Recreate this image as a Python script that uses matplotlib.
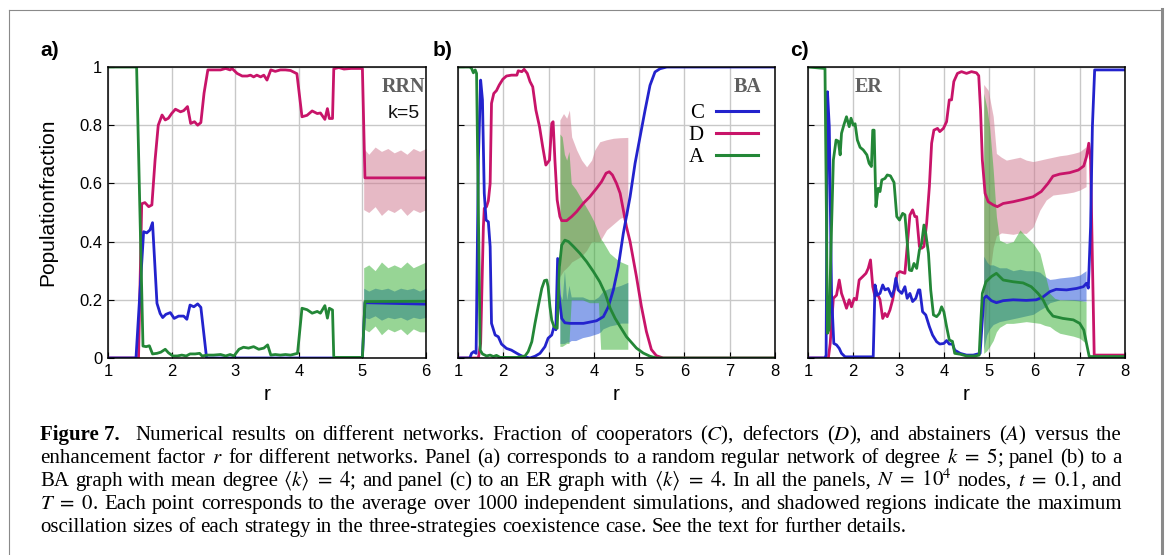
import matplotlib
matplotlib.use("Agg")
import matplotlib.pyplot as plt
from matplotlib.lines import Line2D

plt.rcParams["font.family"] = ["Liberation Sans", "DejaVu Sans"]
plt.rcParams["mathtext.fontset"] = "stix"

W, H = 1167, 555

BLUE = "#2323cd"
RED = "#c81469"
GREEN = "#238737"
BLUE_FILL = "#194bd7"
RED_FILL = "#cf758d"
GREEN_FILL = "#31ad2d"

# ---------------- panel a (RRN, k=5) ----------------
a_r_C = [1.0, 1.44, 1.56, 1.61, 1.66, 1.70, 1.77, 1.82, 1.86, 1.91, 1.98, 2.04, 2.11, 2.19, 2.24,
         2.29, 2.35, 2.41, 2.46, 2.55, 5.0, 5.04, 6.0]
a_C = [0, 0, 0.434, 0.43, 0.44, 0.465, 0.188, 0.153, 0.139, 0.15, 0.156, 0.136, 0.144, 0.144, 0.133,
       0.182, 0.176, 0.186, 0.174, 0.0, 0.0, 0.19, 0.185]

a_r_D = [1.0, 1.48, 1.53, 1.58, 1.64, 1.69, 1.74, 1.79, 1.85, 1.90, 1.95, 2.0, 2.06, 2.14, 2.19,
         2.25, 2.30, 2.36, 2.41, 2.46, 2.51, 2.57, 2.77, 2.85, 2.92, 2.95, 3.03, 3.11, 3.19, 3.24,
         3.29, 3.34, 3.40, 3.45, 3.50, 3.56, 3.63, 3.71, 3.79, 3.87, 3.97, 4.05, 4.13, 4.21, 4.29,
         4.34, 4.41, 4.45, 4.48, 4.53, 4.55, 4.63, 4.71, 4.82, 5.0, 5.04, 6.0]
a_D = [0, 0, 0.53, 0.534, 0.52, 0.526, 0.68, 0.80, 0.835, 0.818, 0.824, 0.84, 0.855, 0.846, 0.85,
       0.864, 0.806, 0.812, 0.80, 0.809, 0.91, 0.99, 0.99, 0.995, 0.99, 0.995, 0.978, 0.969, 0.969,
       0.972, 0.966, 0.972, 0.966, 0.972, 0.955, 0.99, 0.985, 0.99, 0.99, 0.988, 0.977, 0.829, 0.834,
       0.849, 0.84, 0.842, 0.82, 0.857, 0.823, 0.823, 0.994, 0.998, 0.993, 0.995, 0.995, 0.619, 0.619]

a_r_A = [1.0, 1.45, 1.55, 1.60, 1.65, 1.70, 1.77, 1.83, 1.90, 1.95, 2.02, 2.09, 2.16, 2.23, 2.29,
         2.37, 2.44, 2.48, 2.56, 2.66, 2.77, 2.85, 2.92, 2.98, 3.06, 3.13, 3.21, 3.29, 3.37, 3.45,
         3.51, 3.56, 3.63, 3.71, 3.79, 3.87, 3.98, 4.05, 4.13, 4.21, 4.29, 4.34, 4.41, 4.45, 4.48,
         4.53, 4.55, 5.0, 5.04, 6.0]
a_A = [1, 1, 0.041, 0.039, 0.042, 0.014, 0.016, 0.02, 0.03, 0.018, 0.007, 0.007, 0.01, 0.007, 0.014,
       0.014, 0.016, 0.007, 0.01, 0.01, 0.012, 0.007, 0.012, 0.007, 0.03, 0.037, 0.034, 0.039, 0.03,
       0.034, 0.045, 0.01, 0.012, 0.01, 0.012, 0.01, 0.016, 0.171, 0.166, 0.154, 0.16, 0.154, 0.18,
       0.137, 0.171, 0.165, 0.002, 0.002, 0.194, 0.195]

a_r_band = [5.02, 5.1, 5.2, 5.3, 5.4, 5.5, 5.6, 5.7, 5.8, 5.9, 6.0]
a_D_hi = [0.72, 0.70, 0.725, 0.71, 0.72, 0.705, 0.715, 0.70, 0.72, 0.71, 0.72]
a_D_lo = [0.51, 0.50, 0.52, 0.49, 0.51, 0.50, 0.515, 0.49, 0.51, 0.50, 0.51]
a_A_hi = [0.31, 0.32, 0.30, 0.33, 0.31, 0.32, 0.31, 0.33, 0.31, 0.32, 0.33]
a_A_lo = [0.10, 0.09, 0.11, 0.08, 0.10, 0.09, 0.10, 0.08, 0.10, 0.09, 0.09]
a_C_hi = [0.24, 0.23, 0.24, 0.235, 0.24, 0.23, 0.24, 0.235, 0.24, 0.23, 0.24]
a_C_lo = [0.14, 0.135, 0.145, 0.13, 0.14, 0.135, 0.14, 0.13, 0.14, 0.135, 0.14]

# ---------------- panel b (BA) ----------------
b_r_C = [1.0, 1.26, 1.30, 1.35, 1.40, 1.45, 1.50, 1.54, 1.58, 1.62, 1.67, 1.71, 1.74, 1.82, 1.89,
         1.96, 2.07, 2.18, 2.30, 2.37, 2.44, 2.59, 2.70, 2.81, 2.92, 2.99, 3.07, 3.12, 3.16, 3.20,
         3.24, 3.29, 3.36, 3.47, 3.77, 4.06, 4.21, 4.32, 4.43, 4.54, 4.65, 4.80, 4.91, 5.02, 5.13,
         5.24, 5.35, 5.46, 5.61, 8.0]
b_C = [0, 0, 0.016, 0.022, 0.016, 0.68, 0.955, 0.887, 0.566, 0.474, 0.468, 0.383, 0.119, 0.079, 0.073,
       0.048, 0.033, 0.027, 0.016, 0.01, 0.005, 0.0, 0.006, 0.016, 0.039, 0.068, 0.079, 0.108, 0.097,
       0.342, 0.2, 0.136, 0.121, 0.119, 0.119, 0.128, 0.142, 0.176, 0.234, 0.314, 0.428, 0.554,
       0.669, 0.76, 0.851, 0.937, 0.983, 0.994, 1.0, 1.0]

b_r_D = [1.0, 1.45, 1.50, 1.56, 1.58, 1.63, 1.67, 1.71, 1.74, 1.79, 1.85, 1.91, 1.99, 2.07, 2.18,
         2.30, 2.33, 2.41, 2.46, 2.53, 2.59, 2.65, 2.72, 2.80, 2.87, 2.94, 3.02, 3.07, 3.10, 3.14,
         3.19, 3.25, 3.29, 3.40, 3.51, 3.62, 3.77, 3.91, 4.06, 4.17, 4.27, 4.34, 4.41, 4.50, 4.58,
         4.65, 4.72, 4.80, 4.94, 5.05, 5.16, 5.27, 5.38, 5.53, 8.0]
b_D = [0, 0, 0.05, 0.45, 0.514, 0.52, 0.54, 0.60, 0.875, 0.909, 0.919, 0.938, 0.958, 0.969, 0.972,
       0.972, 0.987, 0.984, 0.992, 0.978, 0.95, 0.932, 0.852, 0.795, 0.726, 0.663, 0.68, 0.806, 0.812,
       0.68, 0.543, 0.486, 0.472, 0.472, 0.486, 0.503, 0.532, 0.554, 0.583, 0.606, 0.635, 0.64, 0.629,
       0.60, 0.566, 0.509, 0.451, 0.40, 0.28, 0.177, 0.091, 0.029, 0.008, 0.0, 0.0]

b_r_A = [1.0, 1.26, 1.30, 1.34, 1.38, 1.41, 1.45, 1.49, 1.54, 1.63, 1.71, 1.78, 1.85, 1.93, 2.30,
         2.48, 2.55, 2.63, 2.70, 2.77, 2.85, 2.91, 2.96, 2.99, 3.03, 3.07, 3.12, 3.19, 3.24, 3.29,
         3.36, 3.44, 3.55, 3.69, 3.84, 3.99, 4.13, 4.25, 4.36, 4.47, 4.58, 4.72, 4.94, 5.09, 5.24,
         5.38, 8.0]
b_A = [1, 1, 0.995, 0.98, 0.99, 0.978, 0.5, 0.027, 0.014, 0.007, 0.01, 0.005, 0.009, 0.002, 0.002,
       0.007, 0.022, 0.056, 0.119, 0.176, 0.239, 0.266, 0.268, 0.245, 0.176, 0.13, 0.108, 0.102,
       0.314, 0.388, 0.405, 0.40, 0.383, 0.36, 0.331, 0.297, 0.262, 0.222, 0.171, 0.136, 0.108,
       0.073, 0.034, 0.017, 0.006, 0.0, 0.0]

b_r_band_D = [3.25, 3.33, 3.40, 3.46, 3.51, 3.62, 3.73, 3.84, 3.95, 4.02, 4.13, 4.28, 4.43, 4.58, 4.75]
b_D_hi = [0.818, 0.84, 0.824, 0.852, 0.76, 0.715, 0.68, 0.657, 0.68, 0.715, 0.743, 0.75, 0.755, 0.757, 0.758]
b_D_lo = [0.28, 0.30, 0.31, 0.32, 0.33, 0.34, 0.35, 0.37, 0.40, 0.40, 0.40, 0.44, 0.46, 0.48, 0.49]

b_r_band = [3.25, 3.30, 3.35, 3.40, 3.45, 3.50, 3.60, 3.75, 3.90, 4.00, 4.10, 4.15, 4.20, 4.35,
            4.50, 4.60, 4.75]
b_A_hi = [0.77, 0.76, 0.70, 0.68, 0.71, 0.60, 0.58, 0.54, 0.50, 0.47, 0.43, 0.41, 0.40, 0.36, 0.34, 0.33, 0.32]
b_A_lo = [0.04, 0.04, 0.045, 0.05, 0.05, 0.2, 0.2, 0.2, 0.19, 0.19, 0.19, 0.03, 0.03, 0.03, 0.03, 0.03, 0.03]
b_C_hi = [0.22, 0.20, 0.30, 0.20, 0.25, 0.21, 0.21, 0.21, 0.20, 0.20, 0.21, 0.22, 0.23, 0.24, 0.245, 0.25, 0.26]
b_C_lo = [0.05, 0.05, 0.05, 0.055, 0.055, 0.06, 0.06, 0.07, 0.075, 0.08, 0.085, 0.09, 0.10, 0.11, 0.115, 0.12, 0.12]

# ---------------- panel c (ER) ----------------
c_r_C = [1.0, 1.375, 1.40, 1.43, 1.47, 1.52, 1.57, 1.63, 1.69, 1.74, 1.82, 2.44, 2.48, 2.53, 2.59,
         2.65, 2.70, 2.77, 2.85, 2.90, 2.94, 2.99, 3.07, 3.14, 3.19, 3.25, 3.31, 3.38, 3.44, 3.47,
         3.53, 3.60, 3.68, 3.75, 3.84, 3.91, 4.0, 4.06, 4.12, 4.19, 4.24, 4.36, 4.50, 4.65, 4.80,
         4.85, 4.88, 4.94, 5.05, 5.16, 5.31, 5.53, 5.82, 6.04, 6.19, 6.34, 6.48, 6.71, 6.93, 7.08,
         7.15, 7.19, 7.24, 7.28, 7.33, 8.0]
c_C = [0, 0, 0.01, 0.915, 0.795, 0.22, 0.05, 0.045, 0.033, 0.016, 0.004, 0.004, 0.251, 0.216, 0.222,
       0.251, 0.234, 0.239, 0.211, 0.234, 0.274, 0.234, 0.222, 0.245, 0.205, 0.222, 0.194, 0.205,
       0.234, 0.234, 0.159, 0.148, 0.108, 0.079, 0.056, 0.048, 0.05, 0.06, 0.048, 0.048, 0.027,
       0.016, 0.01, 0.01, 0.016, 0.13, 0.205, 0.213, 0.197, 0.19, 0.197, 0.2, 0.198, 0.2, 0.21,
       0.228, 0.236, 0.234, 0.239, 0.245, 0.257, 0.24, 0.451, 0.795, 0.99, 0.99]

c_r_D = [1.0, 1.45, 1.49, 1.56, 1.63, 1.69, 1.74, 1.79, 1.85, 1.91, 1.96, 2.02, 2.07, 2.13, 2.21,
         2.28, 2.33, 2.38, 2.43, 2.48, 2.53, 2.59, 2.65, 2.70, 2.75, 2.81, 2.87, 2.92, 2.97, 3.03,
         3.14, 3.19, 3.25, 3.31, 3.36, 3.40, 3.46, 3.51, 3.56, 3.62, 3.68, 3.73, 3.78, 3.86, 3.91,
         3.99, 4.06, 4.12, 4.17, 4.22, 4.30, 4.39, 4.50, 4.61, 4.72, 4.77, 4.81, 4.85, 4.91, 4.98,
         5.09, 5.18, 5.31, 5.53, 5.75, 5.97, 6.15, 6.30, 6.41, 6.56, 6.78, 6.97, 7.09, 7.15, 7.20,
         7.24, 7.28, 7.32, 8.0]
c_D = [0, 0, 0.05, 0.205, 0.216, 0.268, 0.222, 0.2, 0.171, 0.2, 0.176, 0.205, 0.2, 0.268, 0.28,
       0.291, 0.308, 0.337, 0.245, 0.211, 0.222, 0.2, 0.136, 0.153, 0.142, 0.165, 0.2, 0.245, 0.291,
       0.297, 0.291, 0.383, 0.491, 0.509, 0.486, 0.486, 0.383, 0.377, 0.383, 0.463, 0.589, 0.738,
       0.783, 0.789, 0.778, 0.789, 0.812, 0.887, 0.887, 0.95, 0.978, 0.984, 0.978, 0.984, 0.98, 0.97,
       0.852, 0.68, 0.566, 0.537, 0.526, 0.52, 0.531, 0.537, 0.545, 0.554, 0.572, 0.6, 0.625, 0.632,
       0.637, 0.646, 0.66, 0.692, 0.738, 0.68, 0.337, 0.01, 0.01]

c_r_A = [1.0, 1.375, 1.40, 1.43, 1.47, 1.50, 1.56, 1.62, 1.67, 1.71, 1.74, 1.79, 1.85, 1.91, 1.95,
         2.0, 2.04, 2.09, 2.15, 2.22, 2.30, 2.35, 2.40, 2.43, 2.46, 2.50, 2.55, 2.59, 2.63, 2.70,
         2.75, 2.82, 2.90, 2.96, 3.02, 3.09, 3.14, 3.19, 3.24, 3.29, 3.34, 3.40, 3.46, 3.51, 3.56,
         3.60, 3.66, 3.71, 3.77, 3.84, 3.90, 3.95, 4.0, 4.06, 4.12, 4.19, 4.24, 4.36, 4.50, 4.69,
         4.78, 4.81, 4.85, 4.93, 5.05, 5.16, 5.31, 5.53, 5.75, 5.93, 6.08, 6.19, 6.30, 6.41, 6.63,
         6.86, 7.0, 7.09, 7.15, 7.21, 8.0]
c_A = [1, 0.995, 0.6, 0.085, 0.1, 0.337, 0.68, 0.749, 0.745, 0.698, 0.772, 0.8, 0.829, 0.795, 0.824,
       0.8, 0.805, 0.749, 0.724, 0.715, 0.698, 0.669, 0.658, 0.783, 0.783, 0.52, 0.583, 0.572, 0.612,
       0.617, 0.629, 0.626, 0.603, 0.486, 0.474, 0.497, 0.492, 0.4, 0.302, 0.3, 0.325, 0.308, 0.371,
       0.394, 0.457, 0.428, 0.36, 0.234, 0.148, 0.142, 0.153, 0.176, 0.159, 0.108, 0.062, 0.057,
       0.016, 0.013, 0.007, 0.007, 0.01, 0.108, 0.222, 0.262, 0.28, 0.291, 0.268, 0.262, 0.258,
       0.245, 0.222, 0.2, 0.165, 0.144, 0.136, 0.131, 0.119, 0.096, 0.05, 0.005, 0.005]

c_r_band_D = [4.88, 4.98, 5.09, 5.16, 5.27, 5.38, 5.53, 5.68, 5.82, 5.97, 6.12, 6.26, 6.41, 6.56,
              6.71, 6.86, 7.0, 7.14]
c_D_hi = [0.94, 0.92, 0.83, 0.703, 0.69, 0.68, 0.685, 0.69, 0.68, 0.675, 0.68, 0.685, 0.69, 0.695,
          0.698, 0.703, 0.709, 0.726]
c_D_lo = [0.05, 0.25, 0.38, 0.42, 0.43, 0.428, 0.425, 0.43, 0.428, 0.45, 0.508, 0.543, 0.56, 0.563,
          0.566, 0.57, 0.577, 0.589]

c_r_band = [4.88, 4.95, 5.01, 5.09, 5.16, 5.23, 5.38, 5.53, 5.68, 5.82, 5.97, 6.12, 6.23, 6.34,
            6.45, 6.56, 6.86, 7.0, 7.14]
c_A_hi = [0.91, 0.86, 0.795, 0.646, 0.486, 0.405, 0.394, 0.40, 0.44, 0.417, 0.394, 0.36, 0.291,
          0.222, 0.205, 0.2, 0.2, 0.198, 0.194]
c_A_lo = [0.016, 0.025, 0.039, 0.06, 0.09, 0.105, 0.119, 0.119, 0.122, 0.125, 0.122, 0.119, 0.112,
          0.108, 0.095, 0.085, 0.075, 0.068, 0.05]
c_C_hi = [0.35, 0.33, 0.32, 0.32, 0.315, 0.31, 0.31, 0.30, 0.305, 0.30, 0.30, 0.295, 0.28, 0.27,
          0.272, 0.275, 0.28, 0.285, 0.30]
c_C_lo = [0.03, 0.08, 0.10, 0.115, 0.12, 0.125, 0.13, 0.135, 0.14, 0.145, 0.15, 0.165, 0.175, 0.19,
          0.195, 0.2, 0.198, 0.196, 0.195]

y_ticks = [0, 0.2, 0.4, 0.6, 0.8, 1]
y_tick_labels = ["0", "0.2", "0.4", "0.6", "0.8", "1"]

caption = [
    r"Numerical results on different networks. Fraction of cooperators ($C$), defectors ($D$), and abstainers ($A$) versus the",
    r"enhancement factor $r$ for different networks. Panel (a) corresponds to a random regular network of degree $k\ =\ 5$; panel (b) to a",
    r"BA graph with mean degree $\langle k\rangle\ =\ 4$; and panel (c) to an ER graph with $\langle k\rangle\ =\ 4$. In all the panels, $N\ =\ 10^4$ nodes, $t\ =\ 0.1$, and",
    r"$T\ =\ 0$. Each point corresponds to the average over 1000 independent simulations, and shadowed regions indicate the maximum",
    r"oscillation sizes of each strategy in the three-strategies coexistence case. See the text for further details.",
]


fig = plt.figure(figsize=(W / 100, H / 100), dpi=100)


def px_axes(left, top, right, bottom):
    return fig.add_axes([left / W, 1 - bottom / H, (right - left) / W, (bottom - top) / H])


def style_axes(ax, xmax, show_ylabels):
    ax.set_xlim(1, xmax)
    ax.set_ylim(0, 1)
    ax.set_xticks(range(1, xmax + 1))
    ax.set_yticks(y_ticks)
    ax.set_yticklabels(y_tick_labels)
    ax.grid(True, color="#c8c8c8", linewidth=1.0)
    ax.set_axisbelow(True)
    ax.tick_params(direction="in", length=4, width=0.8, labelsize=12, pad=4,
                   labelleft=show_ylabels)
    for s in ax.spines.values():
        s.set_linewidth(1.1)


def draw_panel(ax, rC, C, rD, D, rA, A, rbD, D_hi, D_lo, rb, A_hi, A_lo, C_hi, C_lo):
    lw = 2.0
    ax.fill_between(rbD, D_lo, D_hi, color=RED_FILL, alpha=0.5, linewidth=0)
    ax.plot(rD, D, color=RED, lw=lw)
    ax.fill_between(rb, C_lo, C_hi, color=BLUE_FILL, alpha=0.5, linewidth=0)
    ax.plot(rC, C, color=BLUE, lw=lw)
    ax.fill_between(rb, A_lo, A_hi, color=GREEN_FILL, alpha=0.5, linewidth=0)
    ax.plot(rA, A, color=GREEN, lw=lw)


ax_a = px_axes(108, 67, 426, 358)
ax_b = px_axes(458, 67, 775, 358)
ax_c = px_axes(808, 67, 1125, 358)

draw_panel(ax_a, a_r_C, a_C, a_r_D, a_D, a_r_A, a_A, a_r_band, a_D_hi, a_D_lo,
           a_r_band, a_A_hi, a_A_lo, a_C_hi, a_C_lo)
draw_panel(ax_b, b_r_C, b_C, b_r_D, b_D, b_r_A, b_A, b_r_band_D, b_D_hi, b_D_lo,
           b_r_band, b_A_hi, b_A_lo, b_C_hi, b_C_lo)
draw_panel(ax_c, c_r_C, c_C, c_r_D, c_D, c_r_A, c_A, c_r_band_D, c_D_hi, c_D_lo,
           c_r_band, c_A_hi, c_A_lo, c_C_hi, c_C_lo)

style_axes(ax_a, 6, True)
style_axes(ax_b, 8, False)
style_axes(ax_c, 8, False)

# panel annotations
serif = ["Liberation Serif", "DejaVu Serif"]
ax_a.text(0.93, 0.93, "RRN", transform=ax_a.transAxes, ha="center", va="center",
          family=serif, weight="bold", size=14.5, color="#5f5f5f")
ax_a.text(0.93, 0.84, "k=5", transform=ax_a.transAxes, ha="center", va="center",
          size=14, color="#111111")
ax_b.text(0.915, 0.93, "BA", transform=ax_b.transAxes, ha="center", va="center",
          family=serif, weight="bold", size=14.5, color="#5f5f5f")
ax_c.text(0.19, 0.93, "ER", transform=ax_c.transAxes, ha="center", va="center",
          family=serif, weight="bold", size=14.5, color="#5f5f5f")

handles = [Line2D([], [], color=BLUE, lw=2.2), Line2D([], [], color=RED, lw=2.2),
           Line2D([], [], color=GREEN, lw=2.2)]
ax_b.legend(handles, ["C", "D", "A"], loc="upper right", frameon=False, markerfirst=False,
            handlelength=2.0, handletextpad=0.6, labelspacing=0.12, borderaxespad=0,
            bbox_to_anchor=(766 / W, 1 - 95 / H), bbox_transform=fig.transFigure,
            prop={"family": serif, "size": 15})

for lab, x in [("a)", 40), ("b)", 433), ("c)", 790)]:
    fig.text(x / W, 1 - 50 / H, lab, ha="left", va="center", size=15, weight="bold")

fig.text(48 / W, 1 - 202 / H, "Populationfraction", rotation=90, ha="center", va="center", size=15)
for ax in (ax_a, ax_b, ax_c):
    pos = ax.get_position()
    fig.text((pos.x0 + pos.x1) / 2, 1 - 395 / H, "r", ha="center", va="center", size=15)

# outer frame of the figure box
frame = "#8a8a8a"
fig.add_artist(Line2D([8.5 / W, 8.5 / W], [0, 1 - 9.5 / H], color=frame, lw=0.8,
                      transform=fig.transFigure))
fig.add_artist(Line2D([8.5 / W, 1162 / W], [1 - 9.5 / H, 1 - 9.5 / H], color=frame, lw=0.8,
                      transform=fig.transFigure))
fig.add_artist(Line2D([1161.5 / W, 1161.5 / W], [0, 1 - 9 / H], color=frame, lw=2.2,
                      transform=fig.transFigure))


# caption, justified line by line
def split_words(line):
    words, cur, in_math = [], "", False
    for ch in line:
        if ch == "$":
            in_math = not in_math
        if ch == " " and not in_math:
            if cur:
                words.append(cur)
            cur = ""
        else:
            cur += ch
    if cur:
        words.append(cur)
    return words


renderer = fig.canvas.get_renderer()
cap_size = 15.0
x_left, x_right = 40, 1122
line_base = [440, 463, 486, 509, 532]

for i, line in enumerate(caption):
    y = 1 - line_base[i] / H
    tokens = []
    if i == 0:
        tokens.append(fig.text(0, y, "Figure 7.", family=serif, weight="bold", size=cap_size,
                               va="baseline"))
    for w in split_words(line):
        tokens.append(fig.text(0, y, w, family=serif, size=cap_size, va="baseline"))
    widths = [t.get_window_extent(renderer).width for t in tokens]
    extra = 8 if i == 0 else 0
    if i < len(caption) - 1:
        gap = (x_right - x_left - extra - sum(widths)) / (len(tokens) - 1)
    else:
        gap = cap_size * 0.25 * 100 / 72
    x = x_left
    for k, (t, w) in enumerate(zip(tokens, widths)):
        t.set_x(x / W)
        x += w + gap
        if k == 0:
            x += extra

fig.savefig("out.png", dpi=100)
